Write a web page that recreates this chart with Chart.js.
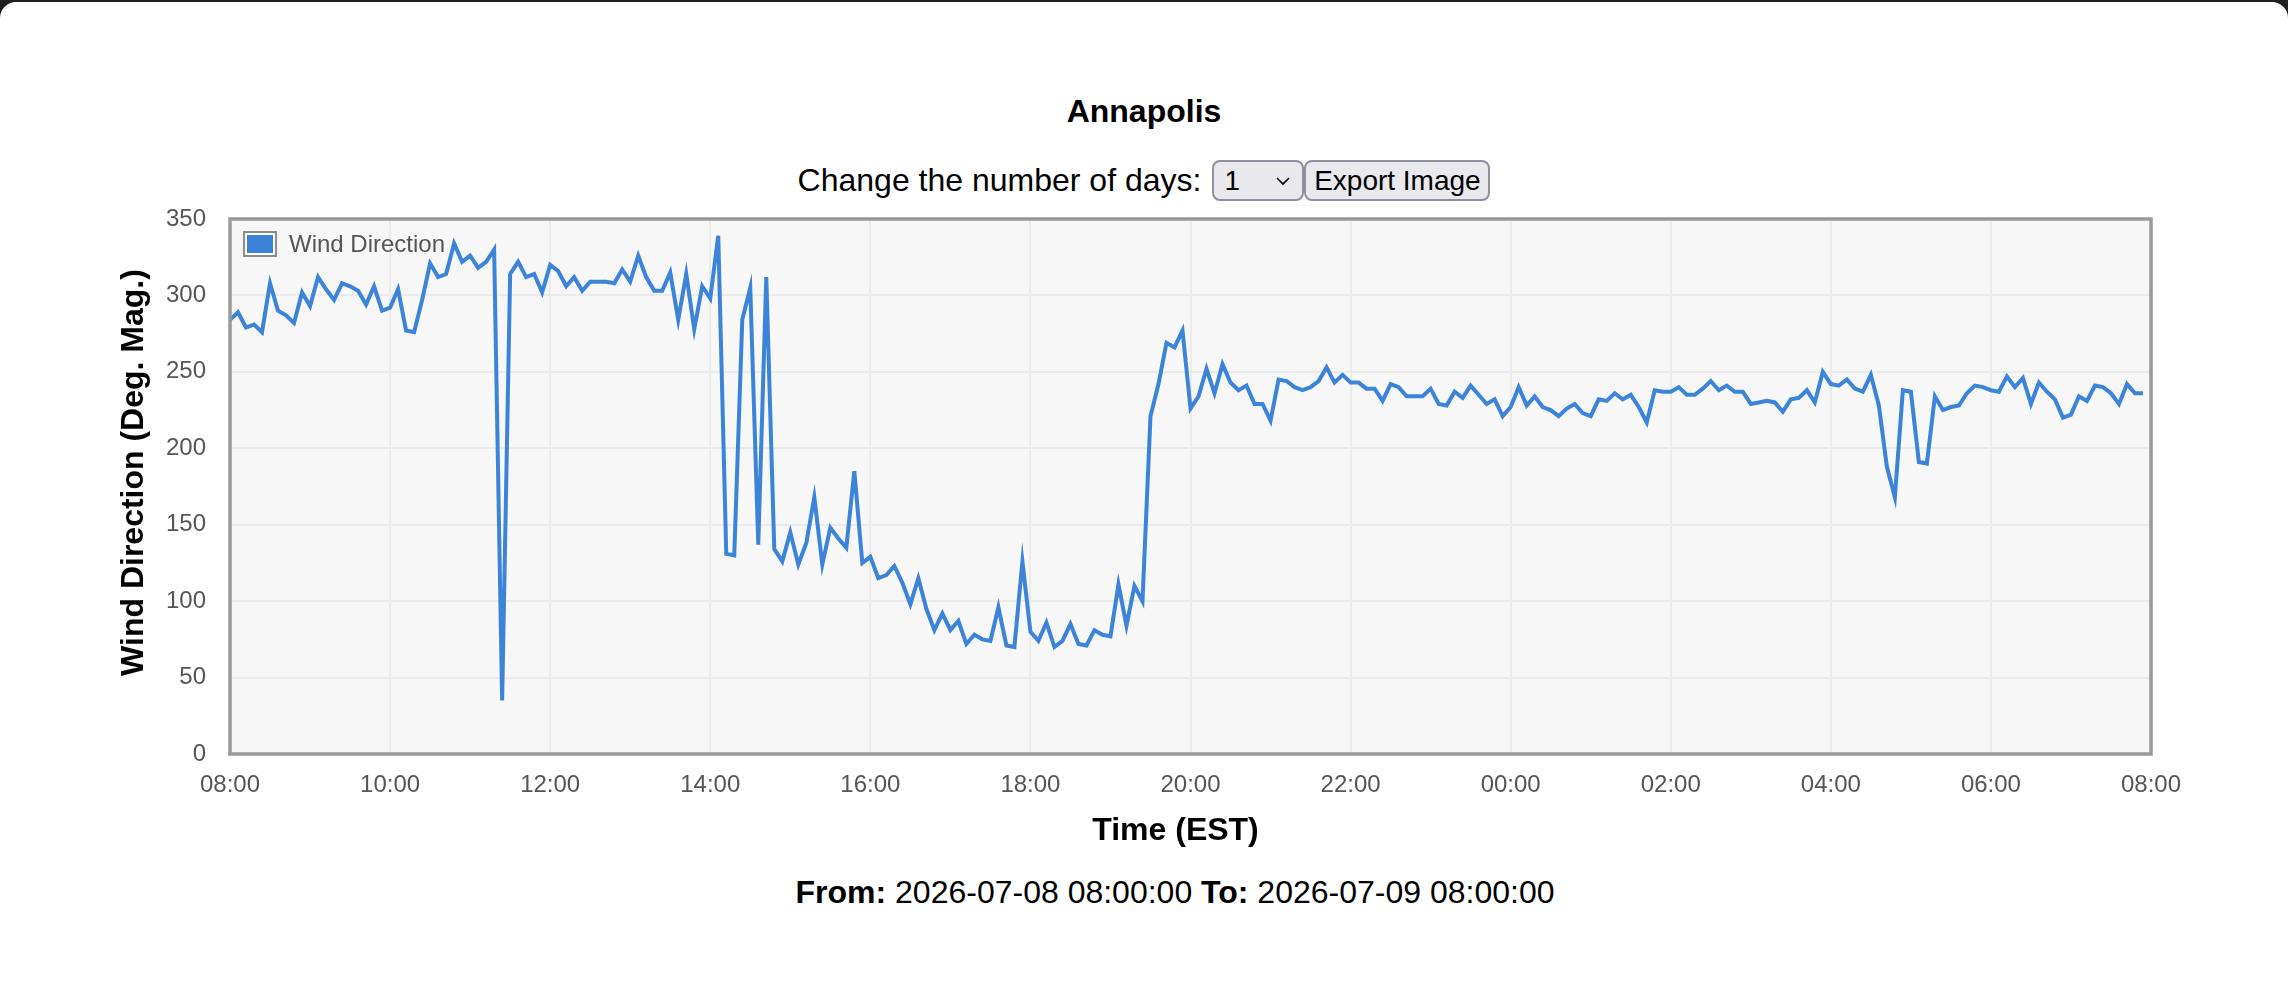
<!DOCTYPE html>
<html>
<head>
<meta charset="utf-8">
<title>Annapolis</title>
<script src="https://cdn.jsdelivr.net/npm/chart.js@4.4.1/dist/chart.umd.min.js"></script>
<style>
  html, body {
    margin: 0;
    padding: 0;
    width: 2288px;
    height: 996px;
    overflow: hidden;
    background: #1f1f1f;
    font-family: "Liberation Sans", Arial, Helvetica, sans-serif;
  }
  #page {
    position: absolute;
    left: 0;
    top: 2px;
    right: 0;
    bottom: 0;
    background: #fff;
    border-radius: 16px 16px 0 0;
  }
  #title {
    position: absolute;
    left: 0;
    right: 0;
    top: 89px;
    line-height: 40px;
    text-align: center;
    font-size: 32px;
    font-weight: bold;
    color: #000;
  }
  #controls {
    position: absolute;
    left: 0;
    right: 0;
    top: 158px;
    height: 41px;
    display: flex;
    justify-content: center;
    align-items: center;
    font-size: 32px;
    color: #000;
  }
  #controls label {
    margin-right: 11px;
  }
  #controls select,
  #controls button {
    height: 41px;
    box-sizing: border-box;
    font-family: "Liberation Sans", Arial, Helvetica, sans-serif;
    font-size: 28px;
    color: #000;
    background-color: #e9e9ed;
    border: 2px solid #8f8f9d;
    border-radius: 8px;
    margin: 0;
  }
  #controls select {
    -webkit-appearance: none;
    appearance: none;
    width: 92px;
    padding: 0 0 0 10px;
    background-image: url("data:image/svg+xml;utf8,<svg xmlns='http://www.w3.org/2000/svg' width='14' height='10'><path d='M1 2 L7 8 L13 2' fill='none' stroke='black' stroke-width='1.6'/></svg>");
    background-repeat: no-repeat;
    background-position: right 12px center;
  }
  #controls button {
    width: 186px;
    padding: 0 6px;
  }
  #chart-box {
    position: absolute;
    left: 0;
    top: 200px;
    width: 2288px;
    height: 652px;
  }
  #range {
    position: absolute;
    left: 0;
    right: 0;
    top: 870px;
    padding-left: 62px;
    line-height: 40px;
    text-align: center;
    font-size: 32px;
    color: #000;
  }
</style>
</head>
<body>
<div id="page">
  <div id="title">Annapolis</div>
  <div id="controls">
    <label for="days">Change the number of days:</label><select id="days"><option>1</option><option>2</option><option>3</option><option>7</option></select><button type="button">Export Image</button>
  </div>
  <div id="chart-box"><canvas id="chart-wind"></canvas></div>
  <div id="range"><b>From:</b> 2026-07-08 08:00:00 <b>To:</b> 2026-07-09 08:00:00</div>
</div>
<script>
// wind direction every 6 minutes, 08:00 -> 07:54 next day
const START_HOUR = 8;
const STEP_MIN = 6;
const POINTS_PER_DAY = 240;

const windDir = [
  284, 289, 279, 281, 276, 308, 290, 287, 282, 302, // 08
  293, 312, 304, 297, 308, 306, 303, 294, 306, 290, // 09
  292, 304, 277, 276, 297, 321, 312, 314, 334, 322, // 10
  326, 318, 322, 330, 35, 314, 322, 312, 314, 302,  // 11
  320, 316, 306, 312, 303, 309, 309, 309, 308, 317, // 12
  309, 326, 312, 303, 303, 315, 284, 314, 278, 306, // 13
  298, 339, 131, 130, 284, 305, 137, 312, 134, 126, // 14
  145, 124, 138, 168, 124, 148, 141, 135, 185, 125, // 15
  129, 115, 117, 123, 112, 98, 115, 95, 81, 92,     // 16
  81, 87, 72, 78, 75, 74, 96, 71, 70, 126,          // 17
  80, 74, 86, 70, 74, 85, 72, 71, 81, 78,           // 18
  77, 111, 84, 110, 100, 221, 242, 269, 266, 277,   // 19
  226, 234, 252, 236, 255, 243, 238, 241, 229, 229, // 20
  218, 245, 244, 240, 238, 240, 244, 253, 243, 248, // 21
  243, 243, 239, 239, 231, 242, 240, 234, 234, 234, // 22
  239, 229, 228, 237, 233, 241, 235, 229, 232, 221, // 23
  227, 240, 228, 234, 227, 225, 221, 226, 229, 223, // 00
  221, 232, 231, 236, 232, 235, 227, 217, 238, 237, // 01
  237, 240, 235, 235, 239, 244, 238, 241, 237, 237, // 02
  229, 230, 231, 230, 224, 232, 233, 238, 230, 250, // 03
  242, 241, 245, 239, 237, 248, 228, 188, 168, 238, // 04
  237, 191, 190, 234, 225, 227, 228, 236, 241, 240, // 05
  238, 237, 247, 240, 246, 229, 243, 237, 232, 220, // 06
  222, 234, 231, 241, 240, 236, 229, 242, 236, 236, // 07
];

const yTicks = [0, 50, 100, 150, 200, 250, 300, 350];
const LABEL_EVERY = 20; // one x label every 2 hours

const X_TITLE = "Time (EST)";
const Y_TITLE = "Wind Direction (Deg. Mag.)";

// category labels "HH:MM", one more than the data so the axis ends at 08:00
const timeLabels = [];
for (let i = 0; i <= POINTS_PER_DAY; i++) {
  const mins = (START_HOUR * 60 + i * STEP_MIN) % (24 * 60);
  const hh = String(Math.floor(mins / 60)).padStart(2, "0");
  const mm = String(mins % 60).padStart(2, "0");
  timeLabels.push(hh + ":" + mm);
}

const COLORS = {
  line: "#3b84d9",
  plotBg: "#f7f7f7",
  plotBorder: "#999999",
  grid: "#ebebeb",
  tick: "#555555",
  title: "#000000",
};

const FONT_FAMILY = '"Liberation Sans", Arial, Helvetica, sans-serif';
Chart.defaults.font.family = FONT_FAMILY;

// plot background + frame
const plotFrame = {
  id: "plotFrame",
  beforeDraw(chart) {
    const { ctx, chartArea: a } = chart;
    ctx.save();
    ctx.fillStyle = COLORS.plotBg;
    ctx.fillRect(a.left, a.top, a.right - a.left, a.bottom - a.top);
    ctx.restore();
  },
  afterDraw(chart) {
    const { ctx, chartArea: a } = chart;
    ctx.save();
    ctx.strokeStyle = COLORS.plotBorder;
    ctx.lineWidth = 3.5;
    ctx.strokeRect(a.left, a.top, a.right - a.left, a.bottom - a.top);
    ctx.restore();
  },
};

// legend drawn inside the plot, top-left, under the line
const innerLegend = {
  id: "innerLegend",
  beforeDatasetsDraw(chart) {
    const { ctx, chartArea: a } = chart;
    const x = a.left + 13;
    const y = a.top + 12;
    ctx.save();
    chart.data.datasets.forEach((ds, i) => {
      const top = y + i * 36;
      ctx.fillStyle = "#8c8c8c";
      ctx.fillRect(x, top, 34, 26);
      ctx.fillStyle = "#ffffff";
      ctx.fillRect(x + 2, top + 2, 30, 22);
      ctx.fillStyle = ds.backgroundColor;
      ctx.fillRect(x + 4, top + 4, 26, 18);
      ctx.fillStyle = COLORS.tick;
      ctx.font = "24px " + FONT_FAMILY;
      ctx.textBaseline = "middle";
      ctx.textAlign = "left";
      ctx.fillText(ds.label, x + 46, top + 14);
    });
    ctx.restore();
  },
};

// axis titles: the original page centres them a little off the plot centre
const axisTitles = {
  id: "axisTitles",
  afterDraw(chart) {
    const { ctx, chartArea: a } = chart;
    const cx = (a.left + a.right) / 2 - 15;
    const cy = (a.top + a.bottom) / 2 - 14;
    ctx.save();
    ctx.fillStyle = COLORS.title;
    ctx.font = "bold 32px " + FONT_FAMILY;
    ctx.textAlign = "center";
    ctx.textBaseline = "middle";
    ctx.fillText(X_TITLE, cx, a.bottom + 77);
    ctx.translate(a.left - 96, cy);
    ctx.rotate(-Math.PI / 2);
    ctx.fillText(Y_TITLE, 0, 0);
    ctx.restore();
  },
};

new Chart(document.getElementById("chart-wind").getContext("2d"), {
  type: "line",
  data: {
    labels: timeLabels,
    datasets: [
      {
        label: "Wind Direction",
        data: windDir,
        borderColor: COLORS.line,
        backgroundColor: COLORS.line,
        borderWidth: 4,
        pointRadius: 0,
        tension: 0,
        fill: false,
      },
    ],
  },
  plugins: [plotFrame, innerLegend, axisTitles],
  options: {
    responsive: true,
    maintainAspectRatio: false,
    animation: false,
    layout: {
      padding: { left: 111, top: 17, right: 137, bottom: 0 },
    },
    scales: {
      x: {
        type: "category",
        offset: false,
        afterFit(scale) {
          scale.height = 100;
          scale.paddingLeft = 0;
          scale.paddingRight = 0;
        },
        border: { display: false },
        grid: {
          color: COLORS.grid,
          lineWidth: 2,
          drawTicks: false,
        },
        ticks: {
          autoSkip: false,
          maxRotation: 0,
          padding: 17,
          color: COLORS.tick,
          font: { size: 24 },
          callback: function (value, index) {
            return index % LABEL_EVERY === 0 ? timeLabels[index] : null;
          },
        },
        title: { display: false },
      },
      y: {
        min: yTicks[0],
        max: yTicks[yTicks.length - 1],
        afterFit(scale) {
          scale.width = 119;
          scale.paddingTop = 0;
          scale.paddingBottom = 0;
        },
        afterBuildTicks(scale) {
          scale.ticks = yTicks.map((v) => ({ value: v }));
        },
        border: { display: false },
        grid: {
          color: COLORS.grid,
          lineWidth: 2,
          drawTicks: false,
        },
        ticks: {
          padding: 24,
          color: COLORS.tick,
          font: { size: 24 },
        },
        title: { display: false },
      },
    },
    plugins: {
      legend: { display: false },
      tooltip: { enabled: false },
    },
  },
});
</script>
</body>
</html>
